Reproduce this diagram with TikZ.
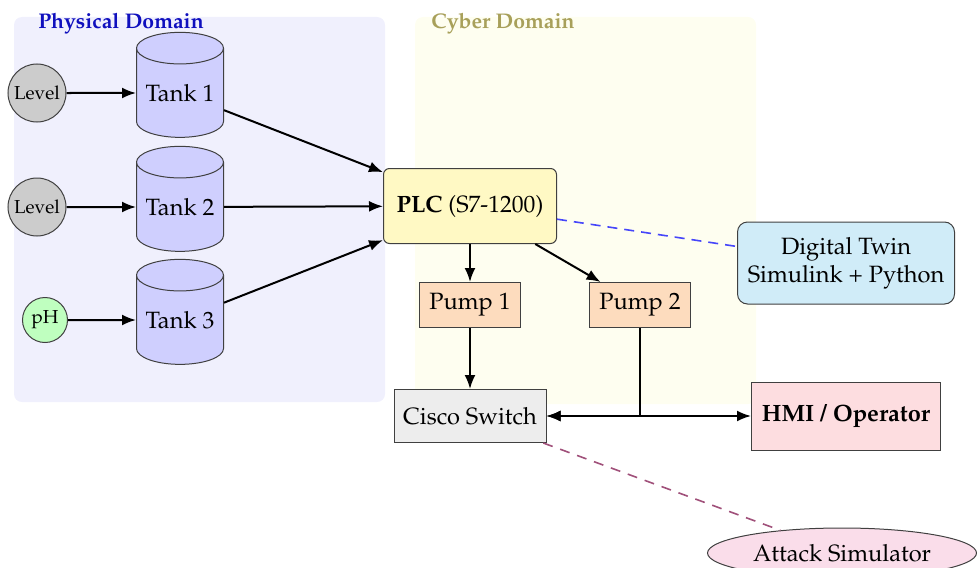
\documentclass[tikz,border=0pt]{standalone}
\usepackage[T1]{fontenc}
\usepackage{mathpazo}
\usetikzlibrary{shapes.geometric,arrows.meta}
\definecolor{physbg}{RGB}{240,240,253}
\definecolor{cyberbg}{RGB}{254,254,240}
\definecolor{physlbl}{RGB}{15,15,190}
\definecolor{cyberlbl}{RGB}{168,160,90}
\definecolor{tankfill}{RGB}{207,207,254}
\definecolor{plcfill}{RGB}{255,249,196}
\definecolor{pumpfill}{RGB}{253,220,190}
\definecolor{dtfill}{RGB}{208,236,248}
\definecolor{swfill}{RGB}{237,237,237}
\definecolor{hmifill}{RGB}{253,221,224}
\definecolor{atkfill}{RGB}{250,221,234}
\definecolor{atkline}{RGB}{160,80,122}
\definecolor{dtline}{RGB}{70,70,250}
\begin{document}
\begin{tikzpicture}[x=0.5pt,y=-0.5pt,
  >={Latex[length=7pt,width=5.5pt]},
  mainfont/.style={font=\fontsize{11.8}{13.8}\selectfont},
  thinborder/.style={draw=black!75,line width=0.5pt},
  sensor/.style={circle,thinborder,fill=gray!40,inner sep=0pt,minimum size=29pt,font=\fontsize{9.4}{11}\selectfont},
  phsensor/.style={circle,thinborder,fill=green!25,inner sep=0pt,minimum size=22.5pt,font=\fontsize{9.4}{11}\selectfont},
  tank/.style={cylinder,shape border rotate=90,aspect=0.46,thinborder,fill=tankfill,minimum width=43.5pt,minimum height=52.5pt,inner sep=0pt,mainfont},
  box/.style={rectangle,thinborder,inner sep=0pt,mainfont},
  flow/.style={line width=1pt,->},
  domlbl/.style={font=\fontsize{10.6}{12.5}\selectfont\bfseries}
]
\useasboundingbox (0,0) rectangle (977,567);
% domains
\fill[physbg,rounded corners=4pt] (14,17) rectangle (385,402);
\fill[cyberbg,rounded corners=4pt] (415,17) rectangle (756,404);
\node[domlbl,text=physlbl] (physlabel) at (121,24) {Physical Domain};
\node[domlbl,text=cyberlbl] (cyberlabel) at (503,24) {Cyber Domain};
% sensors
\node[sensor] (lvl1) at (37,93) {Level};
\node[sensor] (lvl2) at (37,207) {Level};
\node[phsensor] (ph) at (45,320) {pH};
% tanks
\node[tank] (tank1) at (180,93) {Tank 1};
\node[tank] (tank2) at (180,207) {Tank 2};
\node[tank] (tank3) at (180,320) {Tank 3};
% cyber
\node[box,rounded corners=3pt,fill=plcfill,minimum width=86.5pt,minimum height=37.5pt] (plc) at (470,206) {\textbf{PLC} (S7-1200)};
\node[box,fill=pumpfill,minimum width=50.5pt,minimum height=22.5pt] (pump1) at (470,305) {Pump 1};
\node[box,fill=pumpfill,minimum width=50.5pt,minimum height=22.5pt] (pump2) at (640,305) {Pump 2};
\node[box,rounded corners=5pt,fill=dtfill,minimum width=108.5pt,minimum height=41pt,align=center] (dt) at (846,263) {Digital Twin\\Simulink + Python};
\node[box,fill=swfill,minimum width=76pt,minimum height=26.5pt] (switch) at (470,416) {Cisco Switch};
\node[box,fill=hmifill,minimum width=94.5pt,minimum height=34pt,font=\fontsize{11.8}{13.8}\selectfont\bfseries] (hmi) at (846,416) {HMI / Operator};
\node[ellipse,thinborder,fill=atkfill,minimum width=134.5pt,minimum height=25pt,inner sep=0pt,mainfont] (atk) at (842,553) {Attack Simulator};
% connectors
\draw[flow] (lvl1) -- (tank1);
\draw[flow] (lvl2) -- (tank2);
\draw[flow] (ph) -- (tank3);
\draw[flow] (tank1) -- (plc);
\draw[flow] (tank2) -- (plc);
\draw[flow] (tank3) -- (plc);
\draw[flow] (plc) -- (pump1);
\draw[flow] (plc) -- (pump2);
\draw[dtline,dash pattern=on 5pt off 3.5pt,line width=0.8pt] (plc) -- (dt);
\draw[flow] (pump1) -- (switch);
\draw[flow] (pump2) |- (switch);
\draw[line width=1pt,<->] (switch) -- (hmi);
\draw[atkline,dash pattern=on 5pt off 4pt,line width=0.8pt] (switch) -- (atk);
\end{tikzpicture}
\end{document}
